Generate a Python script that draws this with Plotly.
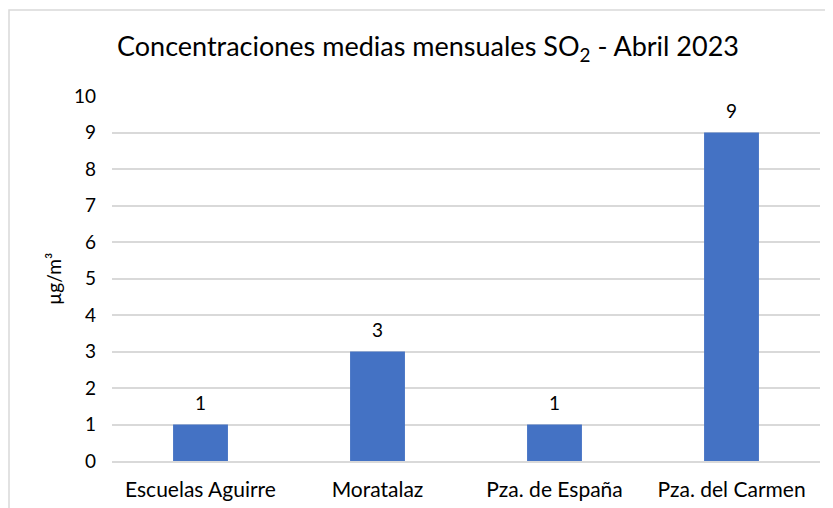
import plotly.graph_objects as go

stations = ["Escuelas Aguirre", "Moratalaz", "Pza. de España", "Pza. del Carmen"]
so2_values = [1, 3, 1, 9]
y_ticks = [0, 1, 2, 3, 4, 5, 6, 7, 8, 9, 10]

# page body has an 8px offset; work in figure coordinates = screen - 8
OFF = 8
W, H = 833, 508
ml = 112 - OFF
mt = 96 - OFF
plot_right = 820 - OFF
plot_bottom = 461 - OFF
mr = W - plot_right
mb = H - plot_bottom
pw, ph = plot_right - ml, plot_bottom - mt

fig = go.Figure(go.Bar(
    x=stations, y=so2_values,
    marker=dict(color="#4472C4", line=dict(width=0)),
    width=0.31,
    hoverinfo="x+y",
))

label_annotations = [
    dict(text=str(v), x=s, y=v, xref="x", yref="y", yshift=22,
         xanchor="center", yanchor="middle", showarrow=False,
         font=dict(family="Lato", size=19, color="#000000"))
    for s, v in zip(stations, so2_values)
]

fig.update_layout(
    width=W, height=H,
    margin=dict(l=ml, r=mr, t=mt, b=mb, autoexpand=False),
    paper_bgcolor="white", plot_bgcolor="white",
    font=dict(family="Lato", color="#000000"),
    showlegend=False,
    title=dict(text="Concentraciones medias mensuales SO<sub>2</sub> - Abril 2023",
               x=(428 - OFF) / W, xanchor="center", y=1 - (47 - OFF) / H, yanchor="middle",
               font=dict(family="Lato", size=27, color="#000000")),
    xaxis=dict(tickfont=dict(family="Lato", size=21), showgrid=False, automargin=False,
               showline=True, linecolor="#d9d9d9", linewidth=1.5, ticks="",
               ticklabelstandoff=9),
    yaxis=dict(range=[0, 10], tickvals=y_ticks, tickfont=dict(family="Lato", size=19),
               showgrid=True, gridcolor="#d9d9d9", gridwidth=1.5, zeroline=False,
               ticks="", ticklabelstandoff=15, automargin=False),
    bargap=0.69,
    annotations=label_annotations + [
        dict(text="µg/m³", xref="paper", yref="paper",
             x=(53 - OFF - ml) / pw, y=(plot_bottom - (279 - OFF)) / ph, textangle=-90,
             xanchor="center", yanchor="middle", showarrow=False,
             font=dict(family="Lato", size=19, color="#000000"))],
    shapes=[dict(type="rect", xref="paper", yref="paper",
                 x0=(1 - ml) / pw, x1=(W + 20 - ml) / pw,
                 y0=-(mb + 20) / ph, y1=1 + (mt - 2) / ph,
                 line=dict(color="#d9d9d9", width=1.5), fillcolor="rgba(0,0,0,0)", layer="below")],
)

fig.write_html("out.html")
